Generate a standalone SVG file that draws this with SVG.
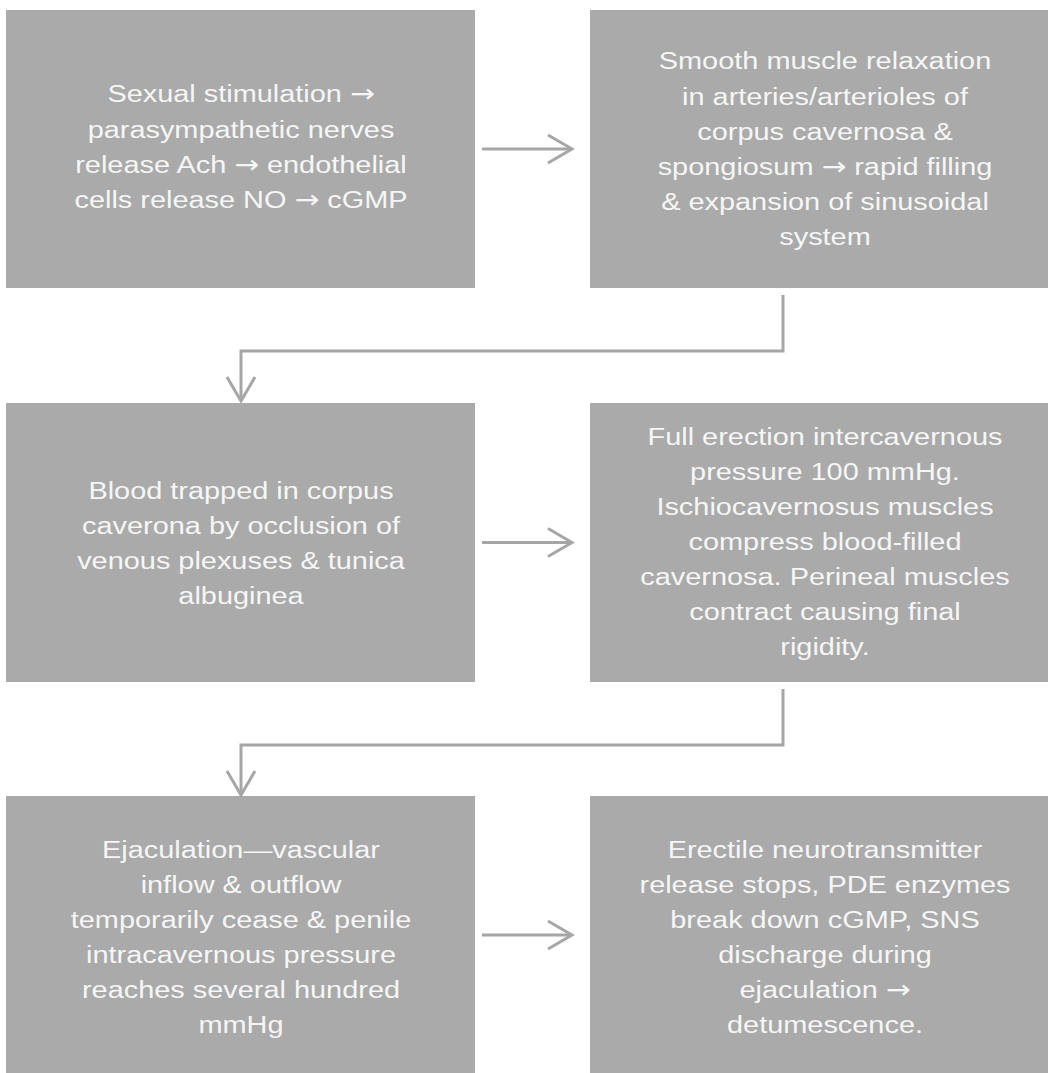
<svg xmlns="http://www.w3.org/2000/svg" width="1048" height="1073" viewBox="0 0 1048 1073">
<defs>
<style>
.box{fill:#a9aaa9}
.t{font-family:"Liberation Sans",Arial,Helvetica,sans-serif;font-size:24.5px;fill:#f6f6f6;text-anchor:middle}
.a{font-family:"DejaVu Sans",sans-serif;font-size:25px}
.c{fill:none;stroke:#a6a6a6;stroke-width:3}
</style>
<marker id="chev" markerUnits="userSpaceOnUse" markerWidth="30" markerHeight="34" refX="25" refY="15" orient="auto" viewBox="0 0 30 30">
<path d="M1,1 L25,15 L1,29" fill="none" stroke="#a6a6a6" stroke-width="3"/>
</marker>
</defs>
<rect width="1048" height="1073" fill="#ffffff"/>
<g id="n1">
<rect class="box" x="6" y="10" width="469" height="278"/>
<g transform="translate(241 0) scale(1.18 1)">
<text class="t" x="0" y="102.5">Sexual stimulation <tspan class="a">→</tspan></text>
<text class="t" x="0" y="137.8">parasympathetic nerves</text>
<text class="t" x="0" y="173">release Ach <tspan class="a">→</tspan> endothelial</text>
<text class="t" x="0" y="208.3">cells release NO <tspan class="a">→</tspan> cGMP</text>
</g>
</g>
<g id="n2">
<rect class="box" x="590" y="10" width="458" height="278"/>
<g transform="translate(825 0) scale(1.18 1)">
<text class="t" x="0" y="69.5">Smooth muscle relaxation</text>
<text class="t" x="0" y="104.7">in arteries/arterioles of</text>
<text class="t" x="0" y="139.9">corpus cavernosa &amp;</text>
<text class="t" x="0" y="175.1">spongiosum <tspan class="a">→</tspan> rapid filling</text>
<text class="t" x="0" y="210.3">&amp; expansion of sinusoidal</text>
<text class="t" x="0" y="245.5">system</text>
</g>
</g>
<g id="n3">
<rect class="box" x="6" y="403" width="469" height="279"/>
<g transform="translate(241 0) scale(1.18 1)">
<text class="t" x="0" y="499.5">Blood trapped in corpus</text>
<text class="t" x="0" y="534.5">caverona by occlusion of</text>
<text class="t" x="0" y="569.5">venous plexuses &amp; tunica</text>
<text class="t" x="0" y="604.5">albuginea</text>
</g>
</g>
<g id="n4">
<rect class="box" x="590" y="403" width="458" height="279"/>
<g transform="translate(825 0) scale(1.18 1)">
<text class="t" x="0" y="445">Full erection intercavernous</text>
<text class="t" x="0" y="480">pressure 100 mmHg.</text>
<text class="t" x="0" y="515">Ischiocavernosus muscles</text>
<text class="t" x="0" y="550">compress blood-filled</text>
<text class="t" x="0" y="585">cavernosa. Perineal muscles</text>
<text class="t" x="0" y="620">contract causing final</text>
<text class="t" x="0" y="655">rigidity.</text>
</g>
</g>
<g id="n5">
<rect class="box" x="6" y="796" width="469" height="277"/>
<g transform="translate(241 0) scale(1.18 1)">
<text class="t" x="0" y="858">Ejaculation—vascular</text>
<text class="t" x="0" y="893">inflow &amp; outflow</text>
<text class="t" x="0" y="928">temporarily cease &amp; penile</text>
<text class="t" x="0" y="963">intracavernous pressure</text>
<text class="t" x="0" y="998">reaches several hundred</text>
<text class="t" x="0" y="1033">mmHg</text>
</g>
</g>
<g id="n6">
<rect class="box" x="590" y="796" width="458" height="277"/>
<g transform="translate(825 0) scale(1.18 1)">
<text class="t" x="0" y="858">Erectile neurotransmitter</text>
<text class="t" x="0" y="893">release stops, PDE enzymes</text>
<text class="t" x="0" y="928">break down cGMP, SNS</text>
<text class="t" x="0" y="963">discharge during</text>
<text class="t" x="0" y="998">ejaculation <tspan class="a">→</tspan></text>
<text class="t" x="0" y="1033">detumescence.</text>
</g>
</g>
<g id="connectors">
<path class="c" d="M482,149 H572" marker-end="url(#chev)"/>
<path class="c" d="M783,295 V351 H241 V401" marker-end="url(#chev)"/>
<path class="c" d="M482,542.5 H572" marker-end="url(#chev)"/>
<path class="c" d="M783,689 V745 H241 V795" marker-end="url(#chev)"/>
<path class="c" d="M482,935 H572" marker-end="url(#chev)"/>
</g>
</svg>
